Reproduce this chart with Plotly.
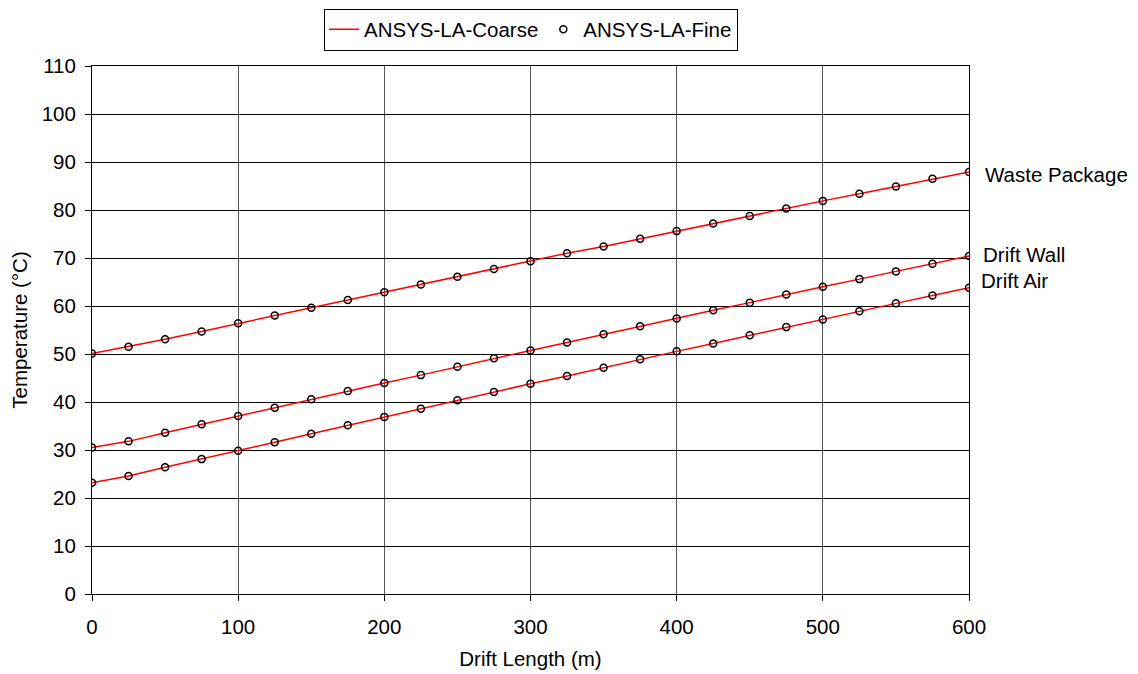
import plotly.graph_objects as go

x = [0, 25, 50, 75, 100, 125, 150, 175, 200, 225, 250, 275, 300,
     325, 350, 375, 400, 425, 450, 475, 500, 525, 550, 575, 600]

waste_package = [50.1, 51.5, 53.05, 54.7, 56.4, 58.0, 59.65, 61.25, 62.85, 64.5, 66.1, 67.7, 69.3,
                 71.0, 72.4, 74.0, 75.6, 77.2, 78.75, 80.3, 81.9, 83.4, 84.9, 86.5, 87.9]
drift_wall = [30.5, 31.8, 33.6, 35.35, 37.1, 38.8, 40.55, 42.3, 43.96, 45.6, 47.35, 49.1, 50.75,
              52.4, 54.1, 55.8, 57.4, 59.1, 60.7, 62.4, 64.0, 65.6, 67.2, 68.8, 70.4]
drift_air = [23.2, 24.6, 26.4, 28.1, 29.85, 31.6, 33.4, 35.15, 36.9, 38.6, 40.35, 42.1, 43.8,
             45.4, 47.15, 48.9, 50.55, 52.2, 53.9, 55.6, 57.2, 58.9, 60.55, 62.2, 63.8]

series = {"Waste Package": waste_package, "Drift Wall": drift_wall, "Drift Air": drift_air}
# label anchor in page pixels (left edge, vertical centre)
label_pos = {"Waste Package": (983, 174), "Drift Wall": (981, 255), "Drift Air": (979, 280)}

FONT = "Liberation Sans, Arial, sans-serif"
FS = 20.5
fig = go.Figure()

for i, (name, vals) in enumerate(series.items()):
    fig.add_trace(go.Scatter(x=x, y=vals, mode="lines", name="ANSYS-LA-Coarse",
                             legendgroup="coarse", showlegend=(i == 0),
                             line=dict(color="red", width=1.5)))
for i, (name, vals) in enumerate(series.items()):
    fig.add_trace(go.Scatter(x=x, y=vals, mode="markers", name="ANSYS-LA-Fine",
                             legendgroup="fine", showlegend=(i == 0),
                             marker=dict(symbol="circle-open", size=7, color="black",
                                         line=dict(width=1.5, color="black"))))

# page offset of the figure (body margin) is 8px
W, H = 1130, 666
L, T = 84, 58
PLOT_L, PLOT_R, PLOT_T, PLOT_B = 92, 969, 66, 594
pw, ph = PLOT_R - PLOT_L, PLOT_B - PLOT_T
R = W - L - pw
B = H - T - ph

anns = []
for name, (px, py) in label_pos.items():
    anns.append(dict(text=name, x=(px - PLOT_L) / pw, y=(PLOT_B - py) / ph, xref="paper", yref="paper",
                     xanchor="left", yanchor="middle", showarrow=False,
                     font=dict(size=FS, color="black", family=FONT)))

fig.update_layout(
    width=W, height=H,
    margin=dict(l=L, r=R, t=T, b=B, autoexpand=False),
    plot_bgcolor="white", paper_bgcolor="white",
    font=dict(family=FONT, size=FS, color="black"),
    annotations=anns,
    legend=dict(orientation="h", x=(531 - PLOT_L) / pw, xanchor="center",
                y=(PLOT_B - 8.5) / ph, yanchor="top",
                bordercolor="black", borderwidth=1, bgcolor="white",
                font=dict(size=FS, family=FONT), itemwidth=30),
    xaxis=dict(range=[0, 600], tickvals=[0, 100, 200, 300, 400, 500, 600],
               showgrid=True, gridcolor="#555555", gridwidth=1,
               showline=True, linecolor="black", linewidth=1, mirror=True,
               ticks="outside", ticklen=6, tickcolor="black", ticklabelstandoff=8,
               title=dict(text="Drift Length (m)", font=dict(size=FS), standoff=15),
               zeroline=False, automargin=False),
    yaxis=dict(range=[0, 110], tickvals=list(range(0, 111, 10)),
               showgrid=True, gridcolor="black", gridwidth=1,
               showline=True, linecolor="black", linewidth=1, mirror=True,
               ticks="outside", ticklen=6, tickcolor="black", ticklabelstandoff=5,
               title=dict(text="Temperature (°C)", font=dict(size=FS), standoff=8),
               zeroline=False, automargin=False),
)

fig.write_html("out.html")
